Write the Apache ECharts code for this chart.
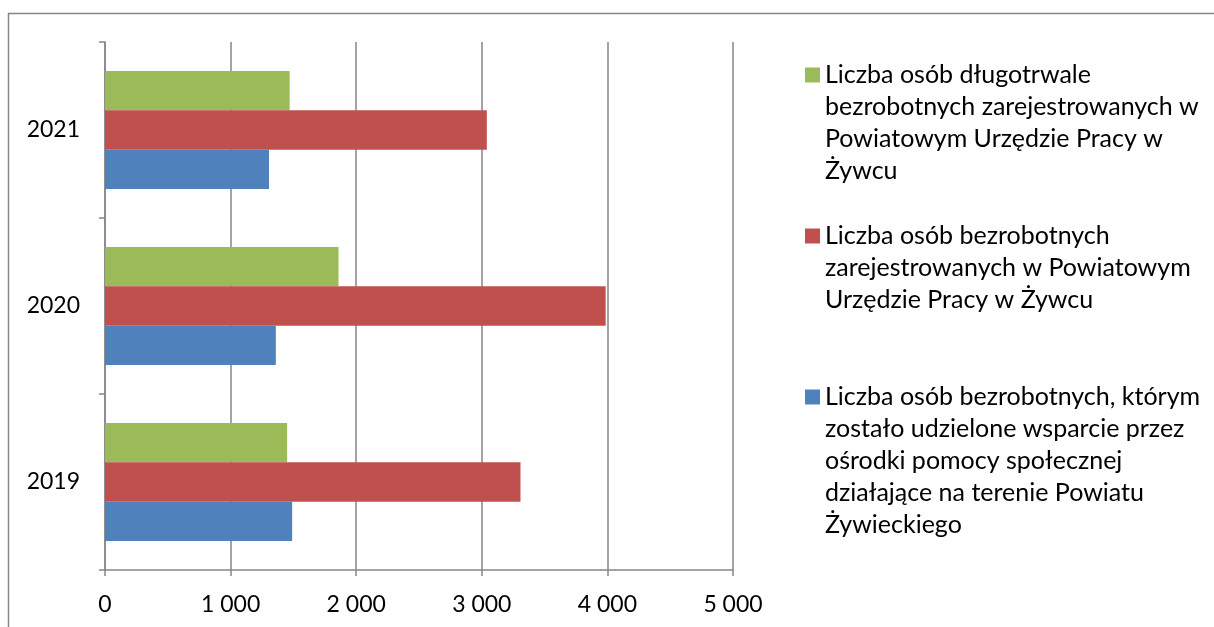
<!DOCTYPE html>
<html>
<head>
<meta charset="utf-8">
<script src="https://cdn.jsdelivr.net/npm/echarts@6/dist/echarts.min.js"></script>
<style>html,body{margin:0;padding:0;background:#fff}#c{width:1214px;height:627px}</style>
</head>
<body>
<div id="c"></div>
<script>
const categories = ['2019', '2020', '2021'];
const xTicks = [0, 1000, 2000, 3000, 4000, 5000];
const seriesNames = [
  'Liczba osób długotrwale bezrobotnych zarejestrowanych w Powiatowym Urzędzie Pracy w Żywcu',
  'Liczba osób bezrobotnych zarejestrowanych w Powiatowym Urzędzie Pracy w Żywcu',
  'Liczba osób bezrobotnych, którym zostało udzielone wsparcie przez ośrodki pomocy społecznej działające na terenie Powiatu Żywieckiego'
];
const legendLines = [
  ['Liczba osób długotrwale', 'bezrobotnych zarejestrowanych w', 'Powiatowym Urzędzie Pracy w', 'Żywcu'],
  ['Liczba osób bezrobotnych', 'zarejestrowanych w Powiatowym', 'Urzędzie Pracy w Żywcu'],
  ['Liczba osób bezrobotnych, którym', 'zostało udzielone wsparcie przez', 'ośrodki pomocy społecznej', 'działające na terenie Powiatu', 'Żywieckiego']
];
const longTermValues = [1450, 1859, 1470];
const registeredValues = [3308, 3986, 3040];
const supportedValues = [1490, 1360, 1306];
const colors = ['#9BBB59', '#C0504D', '#4F81BD'];

const FONT = 'Lato';
const LH = 32;
const fmt = v => String(v).replace(/\B(?=(\d{3})+(?!\d))/g, ' ');

const legendCenters = [75, 236, 397];
const legends = seriesNames.map((name, i) => {
  const n = legendLines[i].length;
  const H = (2 * n - 1) * LH;
  const pad = new Array(n - 1).fill(' ');
  return {
    data: [name],
    orient: 'vertical',
    left: 805,
    top: legendCenters[i] - H / 2,
    padding: 0,
    itemWidth: 15,
    itemHeight: 15,
    icon: 'rect',
    selectedMode: false,
    formatter: () => pad.concat(legendLines[i]).join('\n'),
    textStyle: {fontFamily: FONT, fontSize: 25, color: '#000', lineHeight: LH}
  };
});

const chart = echarts.init(document.getElementById('c'), null, {renderer: 'canvas'});
chart.setOption({
  animation: false,
  backgroundColor: '#fff',
  color: colors,
  graphic: [{
    type: 'rect', shape: {x: 8.5, y: 13.5, width: 1230, height: 700},
    style: {fill: null, stroke: '#868686', lineWidth: 1.5}, silent: true, z: -1
  }],
  legend: legends,
  grid: {left: 105, right: 481, top: 42, bottom: 57, containLabel: false},
  xAxis: {
    type: 'value', min: 0, max: 5000, interval: 1000,
    axisLine: {show: true, lineStyle: {color: '#868686', width: 1.5}},
    axisTick: {show: true, length: 6, lineStyle: {color: '#868686', width: 1.5}},
    splitLine: {show: true, lineStyle: {color: '#868686', width: 1.5}},
    axisLabel: {fontFamily: FONT, fontSize: 23, color: '#000', margin: 23, formatter: fmt}
  },
  yAxis: {
    type: 'category', data: categories,
    axisLine: {show: true, lineStyle: {color: '#868686', width: 1.5}},
    axisTick: {show: true, length: 6, alignWithLabel: false, lineStyle: {color: '#868686', width: 1.5}},
    splitLine: {show: false},
    axisLabel: {fontFamily: FONT, fontSize: 23, color: '#000', margin: 25}
  },
  series: [
    {name: seriesNames[0], type: 'bar', data: longTermValues, barGap: '0%', barCategoryGap: '33%', itemStyle: {color: colors[0]}},
    {name: seriesNames[1], type: 'bar', data: registeredValues, barGap: '0%', barCategoryGap: '33%', itemStyle: {color: colors[1]}},
    {name: seriesNames[2], type: 'bar', data: supportedValues, barGap: '0%', barCategoryGap: '33%', itemStyle: {color: colors[2]}}
  ]
});
</script>
</body>
</html>
